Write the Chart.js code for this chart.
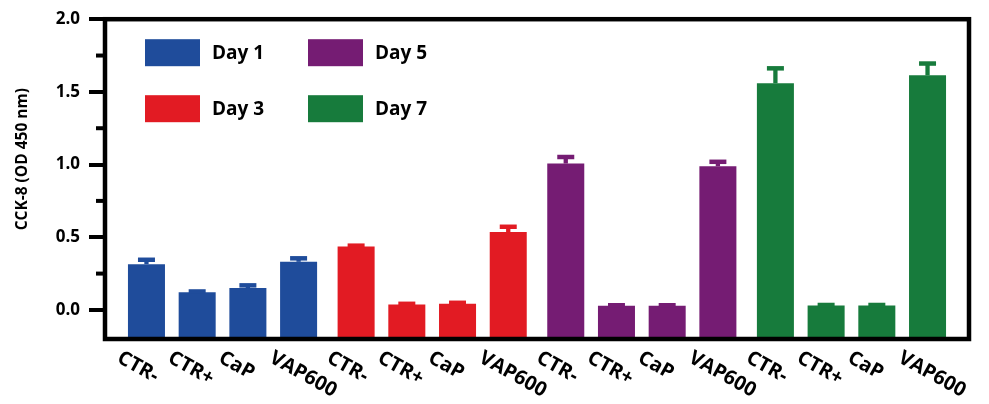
<!DOCTYPE html>
<html><head><meta charset="utf-8">
<script src="https://cdn.jsdelivr.net/npm/chart.js@4"></script>
<style>html,body{margin:0;padding:0;background:#fff}#wrap{width:989px;height:404px}</style>
</head><body><div id="wrap"><canvas id="c" width="989" height="404"></canvas></div>
<script>
const days = ['Day 1', 'Day 3', 'Day 5', 'Day 7'];
const dayColors = ['#1f4c9b', '#e21b23', '#751c73', '#177b3c'];
const treatments = ['CTR-', 'CTR+', 'CaP', 'VAP600'];
const ctrNeg = [0.315, 0.437, 1.007, 1.559];
const ctrPos = [0.122, 0.037, 0.028, 0.030];
const capVals = [0.150, 0.043, 0.028, 0.030];
const vap600 = [0.331, 0.536, 0.988, 1.614];
const ctrNegErr = [0.030, 0.005, 0.045, 0.103];
const ctrPosErr = [0.005, 0.005, 0.004, 0.004];
const capErr = [0.019, 0.006, 0.004, 0.004];
const vap600Err = [0.024, 0.036, 0.031, 0.081];
const yTicks = [0, 0.5, 1.0, 1.5, 2.0];
const yMinorTicks = [0.25, 0.75, 1.25, 1.75];
const yMin = -0.2, yMax = 2.0;
const yTitle = 'CCK-8 (OD 450 nm)';

const FONT = '"Open Sans", "DejaVu Sans", sans-serif';
const seriesVals = [ctrNeg, ctrPos, capVals, vap600];
const seriesErr = [ctrNegErr, ctrPosErr, capErr, vap600Err];
const dayIndex = days.map((d, i) => i);

const datasets = treatments.map((t, k) => ({
  label: t,
  data: seriesVals[k].map((v, i) => ({ x: dayIndex[i], y: v })),
  err: seriesErr[k],
  backgroundColor: dayColors,
  borderWidth: 0,
  base: yMin,
  categoryPercentage: 0.9675,
  barPercentage: 0.73
}));

const deco = {
  id: 'deco',
  afterDraw(chart) {
    const { ctx, chartArea: a, scales: { y } } = chart;
    ctx.save();
    // error bars
    chart.data.datasets.forEach((ds, k) => {
      const meta = chart.getDatasetMeta(k);
      meta.data.forEach((el, i) => {
        const v = ds.data[i].y, e = ds.err[i];
        const y0 = y.getPixelForValue(v), y1 = y.getPixelForValue(v + e);
        ctx.strokeStyle = dayColors[i];
        ctx.lineWidth = 4.3;
        ctx.beginPath(); ctx.moveTo(el.x, y0); ctx.lineTo(el.x, y1); ctx.stroke();
        ctx.lineWidth = 4.5;
        ctx.beginPath(); ctx.moveTo(el.x - 8.5, y1); ctx.lineTo(el.x + 8.5, y1); ctx.stroke();
      });
    });
    // frame
    ctx.strokeStyle = '#000';
    ctx.lineWidth = 4.5;
    ctx.strokeRect(a.left, a.top, a.right - a.left, a.bottom - a.top);
    // minor ticks
    ctx.lineWidth = 4;
    yMinorTicks.forEach(v => {
      const py = y.getPixelForValue(v);
      ctx.beginPath(); ctx.moveTo(a.left - 9, py); ctx.lineTo(a.left, py); ctx.stroke();
    });
    // x labels
    ctx.fillStyle = '#000';
    ctx.font = 'bold 20px ' + FONT;
    ctx.textAlign = 'left';
    ctx.textBaseline = 'alphabetic';
    chart.data.datasets.forEach((ds, k) => {
      const meta = chart.getDatasetMeta(k);
      meta.data.forEach((el, i) => {
        ctx.save();
        ctx.translate(el.x - el.width / 2 - 5, a.bottom + 10);
        ctx.rotate(29 * Math.PI / 180);
        ctx.fillText(treatments[k], 0, 14.3);
        ctx.restore();
      });
    });
    // legend (column-major: Day1, Day3 | Day5, Day7)
    const lx = a.left + 40, ly = a.top + 20;
    days.forEach((d, i) => {
      const col = Math.floor(i / 2), row = i % 2;
      const bx = lx + col * 163, by = ly + row * 56;
      ctx.fillStyle = dayColors[i];
      ctx.fillRect(bx, by, 55, 27);
      ctx.fillStyle = '#000';
      ctx.font = 'bold 19px ' + FONT;
      ctx.textBaseline = 'middle';
      ctx.fillText(d, bx + 67, by + 14);
    });
    // y title
    ctx.save();
    ctx.translate(23, a.top + 140);
    ctx.rotate(-Math.PI / 2);
    ctx.textAlign = 'center';
    ctx.textBaseline = 'middle';
    ctx.font = 'bold 15.5px ' + FONT;
    ctx.fillStyle = '#000';
    ctx.fillText(yTitle, 0, 0);
    ctx.restore();
    ctx.restore();
  }
};

new Chart(document.getElementById('c'), {
  type: 'bar',
  data: { datasets },
  options: {
    responsive: false,
    animation: false,
    devicePixelRatio: 1,
    layout: { padding: { top: 19, right: 20, bottom: 65, left: 0 } },
    plugins: { legend: { display: false }, tooltip: { enabled: false }, title: { display: false } },
    scales: {
      x: {
        type: 'linear', min: -0.5606, max: 3.5606, display: false, offset: false,
        afterBuildTicks: s => { s.ticks = dayIndex.map(v => ({ value: v })); }
      },
      y: {
        min: yMin, max: yMax,
        afterBuildTicks: s => { s.ticks = yTicks.map(v => ({ value: v })); },
        afterFit: s => { s.width = 105; },
        border: { display: false },
        grid: { display: true, drawOnChartArea: false, drawTicks: true, tickLength: 16, lineWidth: 4, color: '#000' },
        ticks: {
          color: '#000', padding: 9,
          font: { family: FONT, weight: 'bold', size: 17 },
          callback: v => Number(v).toFixed(1)
        }
      }
    }
  },
  plugins: [deco]
});
</script></body></html>
